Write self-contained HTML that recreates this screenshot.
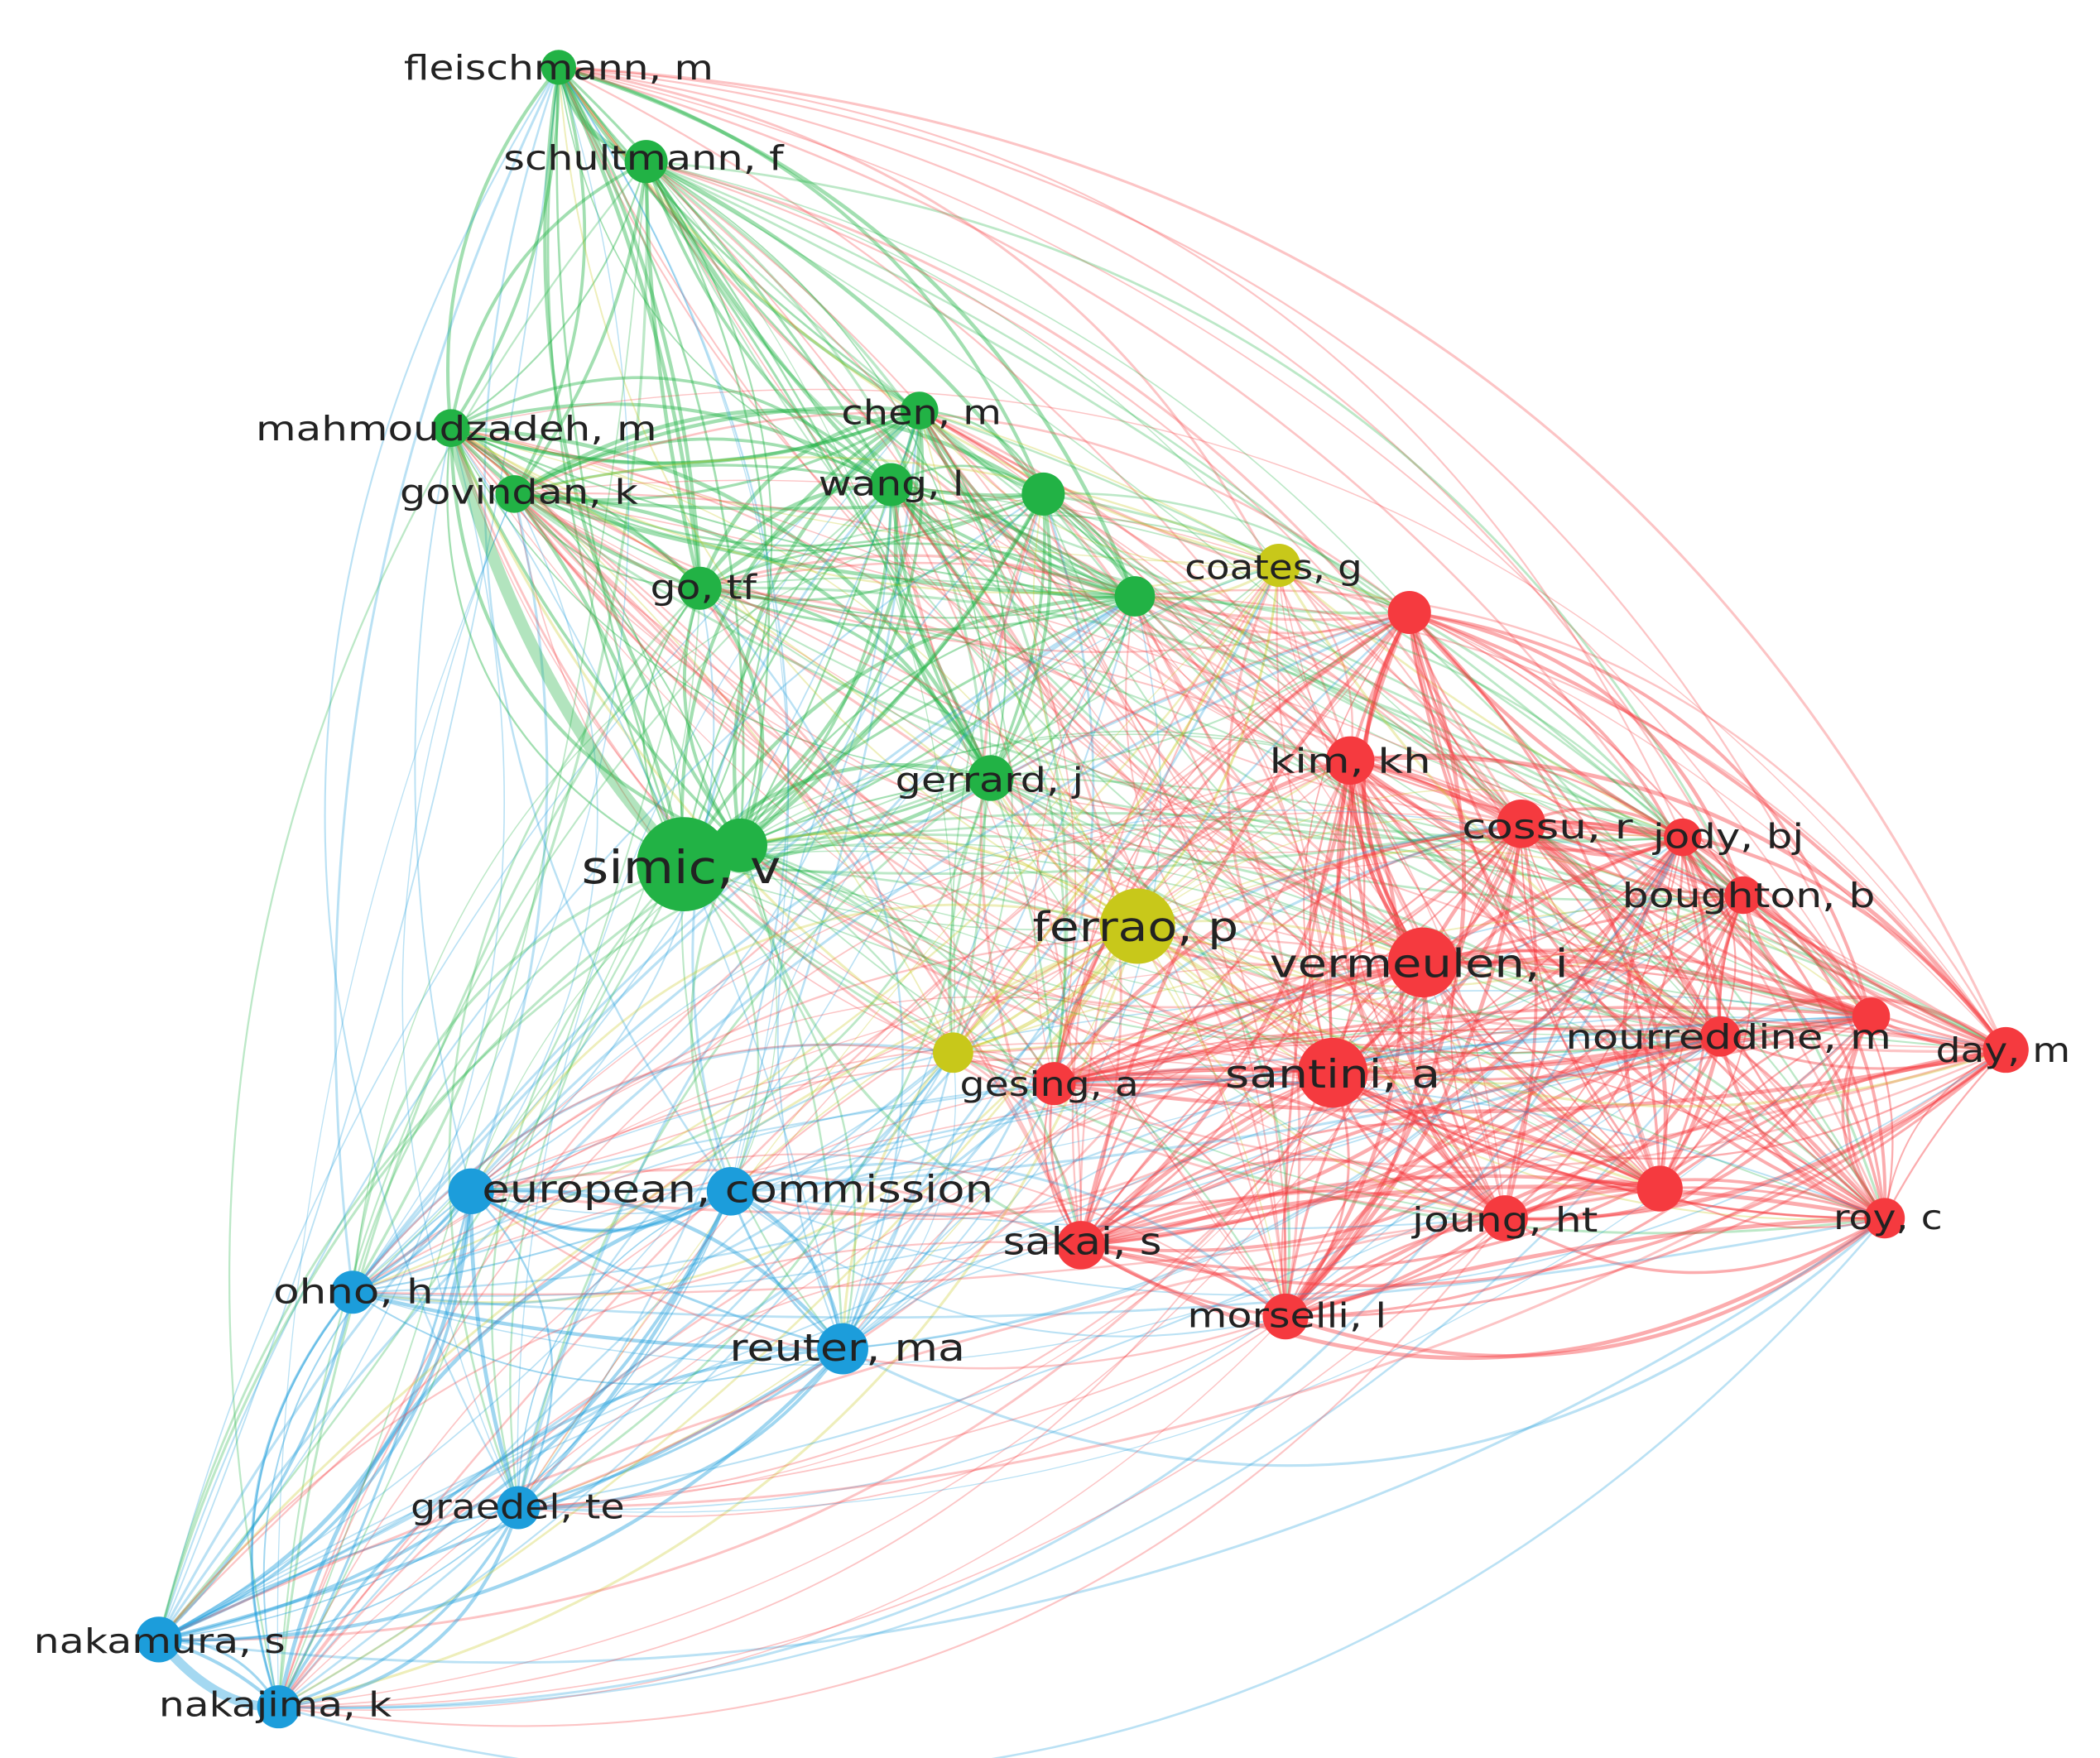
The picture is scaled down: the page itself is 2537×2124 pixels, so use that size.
<!DOCTYPE html>
<html><head><meta charset="utf-8"><style>
html,body{margin:0;padding:0;background:#fff;}
svg{display:block;}
text{font-family:"DejaVu Sans","Liberation Sans",sans-serif;fill:#222;}
</style></head><body>
<svg id="s" width="2537" height="2124" viewBox="0 0 1560 1306" xmlns="http://www.w3.org/2000/svg">
<rect width="1560" height="1306" fill="#fff"/>
<g id="edges" fill="none"></g>
<g id="nodes"></g>
<g font-size="25" lengthAdjust="spacingAndGlyphs">
<text x="300" y="59" textLength="230" lengthAdjust="spacingAndGlyphs">fleischmann, m</text>
<text x="374" y="126" textLength="208" lengthAdjust="spacingAndGlyphs">schultmann, f</text>
<text x="190" y="327" textLength="298" lengthAdjust="spacingAndGlyphs">mahmoudzadeh, m</text>
<text x="297" y="374" textLength="177" lengthAdjust="spacingAndGlyphs">govindan, k</text>
<text x="625" y="315" textLength="119" lengthAdjust="spacingAndGlyphs">chen, m</text>
<text x="608" y="368" textLength="108" lengthAdjust="spacingAndGlyphs">wang, l</text>
<text x="483" y="445" textLength="79" lengthAdjust="spacingAndGlyphs">go, tf</text>
<text x="880" y="430" textLength="132" lengthAdjust="spacingAndGlyphs">coates, g</text>
<text x="943" y="574" textLength="120" lengthAdjust="spacingAndGlyphs">kim, kh</text>
<text x="665" y="588" textLength="140" lengthAdjust="spacingAndGlyphs">gerrard, j</text>
<text x="432" y="656" font-size="34" textLength="148" lengthAdjust="spacingAndGlyphs">simic, v</text>
<text x="767" y="699" font-size="30" textLength="153" lengthAdjust="spacingAndGlyphs">ferrao, p</text>
<text x="1086" y="623" textLength="127" lengthAdjust="spacingAndGlyphs">cossu, r</text>
<text x="1228" y="630" textLength="112" lengthAdjust="spacingAndGlyphs">jody, bj</text>
<text x="1205" y="674" textLength="188" lengthAdjust="spacingAndGlyphs">boughton, b</text>
<text x="943" y="726" font-size="29" textLength="222" lengthAdjust="spacingAndGlyphs">vermeulen, i</text>
<text x="1163" y="779" textLength="242" lengthAdjust="spacingAndGlyphs">nourreddine, m</text>
<text x="1438" y="789" textLength="100" lengthAdjust="spacingAndGlyphs">day, m</text>
<text x="713" y="814" textLength="133" lengthAdjust="spacingAndGlyphs">gesing, a</text>
<text x="910" y="808" font-size="29" textLength="160" lengthAdjust="spacingAndGlyphs">santini, a</text>
<text x="358" y="893" font-size="28" textLength="380" lengthAdjust="spacingAndGlyphs">european, commission</text>
<text x="745" y="932" font-size="28" textLength="118" lengthAdjust="spacingAndGlyphs">sakai, s</text>
<text x="1049" y="915" textLength="138" lengthAdjust="spacingAndGlyphs">joung, ht</text>
<text x="1362" y="913" textLength="81" lengthAdjust="spacingAndGlyphs">roy, c</text>
<text x="203" y="968" textLength="119" lengthAdjust="spacingAndGlyphs">ohno, h</text>
<text x="882" y="986" textLength="148" lengthAdjust="spacingAndGlyphs">morselli, l</text>
<text x="542" y="1011" font-size="28" textLength="175" lengthAdjust="spacingAndGlyphs">reuter, ma</text>
<text x="305" y="1128" textLength="159" lengthAdjust="spacingAndGlyphs">graedel, te</text>
<text x="25" y="1228" textLength="187" lengthAdjust="spacingAndGlyphs">nakamura, s</text>
<text x="118" y="1275" textLength="173" lengthAdjust="spacingAndGlyphs">nakajima, k</text>
</g>
</svg>
<script>
var C={g:"#22b245",y:"#c8c81a",r:"#f53a3f",b:"#1c9ddb"};
var N=[
[415,50,13,"g"],[480,120,16,"g"],[335,318,14,"g"],[382,367,14,"g"],[683,305,14,"g"],[662,360,16,"g"],[775,367,16,"g"],[520,437,16,"g"],[843,443,15,"g"],[736,578,17,"g"],[550,628,20,"g"],[508,642,35,"g"],
[950,420,16,"y"],[845,688,28,"y"],[708,782,15,"y"],
[1047,455,16,"r"],[1003,565,18,"r"],[1130,612,18,"r"],[1250,622,14,"r"],[1295,665,14,"r"],[1057,715,26,"r"],[1278,770,15,"r"],[1390,755,14,"r"],[1490,780,17,"r"],[783,805,16,"r"],[990,797,26,"r"],[803,925,18,"r"],[1118,905,17,"r"],[1233,883,17,"r"],[1400,905,15,"r"],[955,978,17,"r"],
[350,885,17,"b"],[543,885,18,"b"],[262,960,16,"b"],[626,1002,19,"b"],[385,1120,16,"b"],[118,1218,17,"b"],[207,1268,16,"b"]];
var seed=7;function rnd(){seed=(seed*16807)%2147483647;return seed/2147483647;}
var e="",ns="";
for(var pass=0;pass<2;pass++)
for(var i=0;i<N.length;i++)for(var j=i+1;j<N.length;j++){
 var a=N[i],b=N[j],same=a[3]==b[3];
 var p=same?0.85:0.4;
 if(rnd()>p)continue;
 var dx=b[0]-a[0],dy=b[1]-a[1],k=(rnd()*0.3+0.05)*(rnd()<0.5?1:-1);
 var cx=(a[0]+b[0])/2-dy*k,cy=(a[1]+b[1])/2+dx*k;
 var col=C[(a[2]>=b[2])?a[3]:b[3]];
 var w=same?(1+rnd()*2):(0.8+rnd()*1.2);
 e+='<path d="M'+a[0]+' '+a[1]+'Q'+cx.toFixed(1)+' '+cy.toFixed(1)+' '+b[0]+' '+b[1]+'" stroke="'+col+'" stroke-width="'+w.toFixed(1)+'" opacity="'+(same?0.42:0.3)+'"/>';
}
e+='<path d="M335 318Q390 520 508 642" stroke="#22b245" stroke-width="9" opacity="0.35"/>';
e+='<path d="M118 1218Q160 1270 207 1268" stroke="#1c9ddb" stroke-width="7" opacity="0.4"/>';
for(var i=0;i<N.length;i++){var n=N[i];ns+='<circle cx="'+n[0]+'" cy="'+n[1]+'" r="'+n[2]+'" fill="'+C[n[3]]+'"/>';}
document.getElementById("edges").innerHTML=e;
document.getElementById("nodes").innerHTML=ns;
</script>
</body></html>
